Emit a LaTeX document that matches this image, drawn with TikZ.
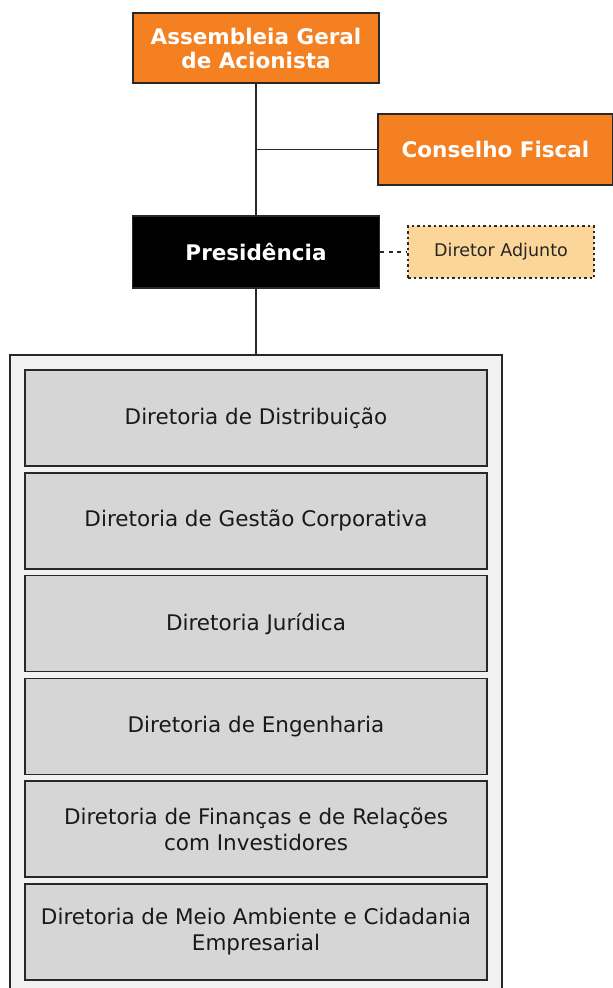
\documentclass[tikz,border=0pt]{standalone}
\usepackage{fontspec}
\setmainfont{DejaVu Sans}
\usepackage{tikz}
\usetikzlibrary{positioning}
\definecolor{laranja}{RGB}{244,128,34}
\definecolor{pessego}{RGB}{252,214,153}
\definecolor{cinza}{RGB}{214,214,214}
\definecolor{fundo}{RGB}{242,242,242}
\definecolor{borda}{RGB}{40,40,40}
\tikzset{%
	topbox/.style   = {draw=borda, line width=1.5pt, fill=laranja, text=white, font=\fontsize{21.5}{24}\selectfont\bfseries, align=center, inner sep=0pt},
	presbox/.style  = {draw=borda, line width=1.5pt, fill=black, text=white, font=\fontsize{21.5}{24}\selectfont\bfseries, align=center, inner sep=0pt, minimum width=247pt, minimum height=72pt},
	auxbox/.style   = {draw=borda, line width=1.3pt, dash pattern=on 2.5pt off 3pt, fill=pessego, text=black!85, font=\fontsize{17.5}{20}\selectfont, inner sep=0pt, minimum width=186pt, minimum height=52pt},
	container/.style= {draw=borda, line width=1.5pt, fill=fundo, minimum width=492pt, minimum height=640pt, inner sep=0pt},
	dirbox/.style   = {draw=borda, line width=1.5pt, fill=cinza, text=black!90, font=\fontsize{21.5}{26}\selectfont, align=center, inner sep=0pt, minimum width=462pt, minimum height=96pt},
	link/.style     = {draw=borda, line width=1.6pt},
}
\begin{document}
\begin{tikzpicture}[x=1pt,y=-1pt]
	\useasboundingbox (0,0) rectangle (613,988);
	\clip (0,0) rectangle (613,988);
	\fill[white] (0,0) rectangle (613,988);
	% topo
	\node[topbox, minimum width=246pt, minimum height=70pt] (assembleia) at (256,48) {Assembleia Geral\\de Acionista};
	\node[topbox, minimum width=235pt, minimum height=71pt] (conselho) at (495.5,149.5) {Conselho Fiscal};
	\node[presbox] (presidencia) at (256,252) {Presidência};
	\node[auxbox] (adjunto) at (501,252) {Diretor Adjunto};
	% diretorias
	\node[container] (diretorias) at (256,675) {};
	\foreach \txt [count=\i] in {Diretoria de Distribuição, Diretoria de Gestão Corporativa, Diretoria Jurídica, Diretoria de Engenharia, {Diretoria de Finanças e de Relações\\com Investidores}, {Diretoria de Meio Ambiente e Cidadania\\Empresarial}}
		\node[dirbox] (dir\i) at (256,{418+102.8*(\i-1)}) {\txt};
	% ligacoes
	\draw[link] (assembleia.south) -- (presidencia.north);
	\draw[link] (conselho.west) -- (conselho.west -| assembleia.south);
	\draw[link] (presidencia.south) -- (diretorias.north);
	\draw[link, line width=1.2pt, dash pattern=on 4pt off 4.5pt] (presidencia.east) -- (adjunto.west);
\end{tikzpicture}
\end{document}
